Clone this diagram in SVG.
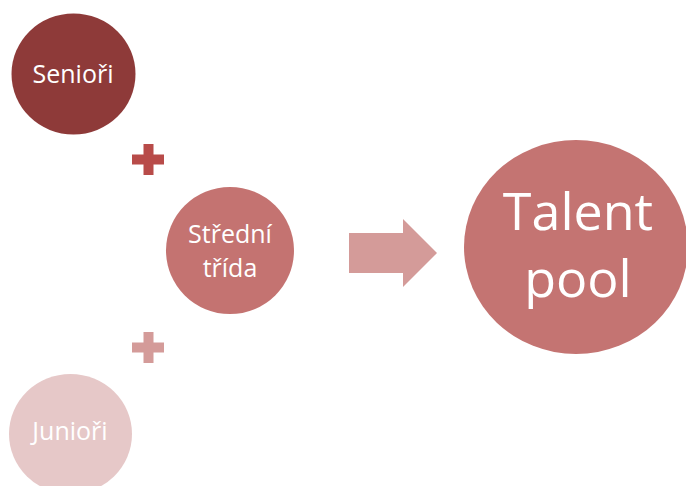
<svg xmlns="http://www.w3.org/2000/svg" width="686" height="486" viewBox="0 0 686 486">
<style>
text{font-family:"Open Sans","Noto Sans",sans-serif;fill:#fff;text-anchor:middle}
.s{font-size:25px}
.b{font-size:52px}
</style>
<rect width="686" height="486" fill="#fff"/>
<g id="connectors">
<path id="plus1" d="M143.5 144h10v10.5h10.5v10h-10.5v10.5h-10v-10.5h-11.5v-10h11.5z" fill="#B84B49"/>
<path id="plus2" d="M143.5 332h10v10.5h10.5v10h-10.5v10.5h-10v-10.5h-11.5v-10h11.5z" fill="#D49B99"/>
<path id="arrow" d="M349 233h54v-14l34 34l-34 34v-14h-54z" fill="#D49B99"/>
</g>
<g id="seniori">
<ellipse cx="73.5" cy="74" rx="62" ry="60.5" fill="#8E3A39"/>
<text class="s" x="73" y="83">Senioři</text>
</g>
<g id="stredni">
<ellipse cx="230" cy="250.5" rx="64" ry="63.5" fill="#C47371"/>
<text class="s" x="230" y="243">Střední</text>
<text class="s" x="230" y="277">třída</text>
</g>
<g id="juniori">
<ellipse cx="70.5" cy="434" rx="61.5" ry="60" fill="#E6C8C8"/>
<text class="s" x="70" y="440">Junioři</text>
</g>
<g id="talent">
<ellipse cx="576" cy="247" rx="112" ry="107" fill="#C47472"/>
<text class="b" x="578" y="230">Talent</text>
<text class="b" x="578" y="297">pool</text>
</g>
</svg>
